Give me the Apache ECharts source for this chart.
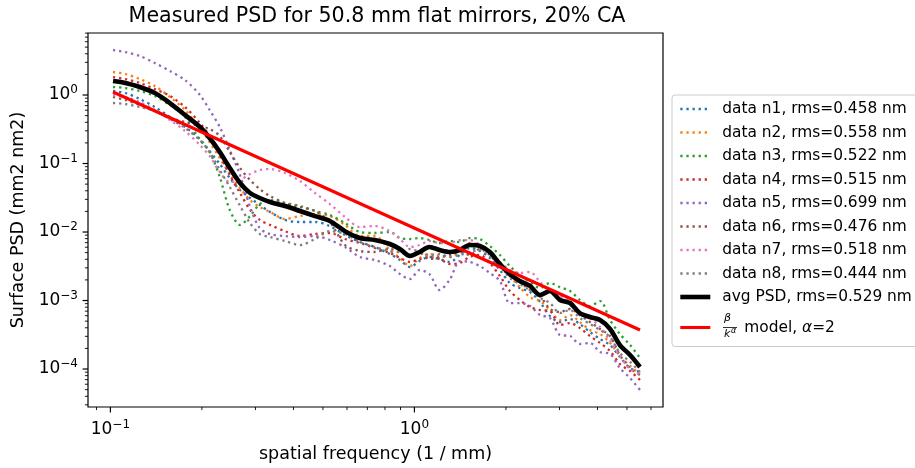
<!DOCTYPE html>
<html>
<head>
<meta charset="utf-8">
<script src="https://cdn.jsdelivr.net/npm/echarts@6/dist/echarts.min.js"></script>
<style>
  html, body { margin: 0; padding: 0; background: #fff; }
  #chart { width: 915px; height: 468px; }
</style>
</head>
<body>
<div id="chart"></div>
<script>
// Spatial frequency samples (1/mm)
const freq = [0.102, 0.112, 0.125, 0.140, 0.157, 0.176, 0.197, 0.212, 0.229, 0.247, 0.267, 0.288, 0.310, 0.335, 0.375, 0.420, 0.471, 0.527, 0.591, 0.662, 0.741, 0.830, 0.896, 0.967, 1.04, 1.12, 1.21, 1.31, 1.41, 1.52, 1.64, 1.77, 1.91, 2.06, 2.22, 2.40, 2.59, 2.79, 3.01, 3.25, 3.50, 3.78, 4.08, 4.40, 4.74, 5.12, 5.52];

// Surface PSD of each measured mirror (mm2 nm2)
const psdN1 = [1.144, 1.070, 0.874, 0.668, 0.477, 0.341, 0.228, 0.152, 0.0983, 0.0614, 0.0410, 0.0314, 0.0248, 0.0196, 0.0150, 0.0140, 0.0140, 0.0122, 0.00904, 0.00715, 0.00604, 0.00477, 0.00390, 0.00308, 0.00377, 0.00432, 0.00403, 0.00365, 0.00462, 0.00584, 0.00528, 0.00417, 0.00279, 0.00180, 0.00152, 0.00133, 0.000951, 0.000594, 0.000485, 0.000537, 0.000454, 0.000347, 0.000274, 0.000224, 0.000150, 0.000103, 0.0000904];
const psdN2 = [2.167, 2.026, 1.712, 1.353, 0.935, 0.604, 0.330, 0.206, 0.120, 0.0703, 0.0439, 0.0293, 0.0232, 0.0196, 0.0155, 0.0171, 0.0183, 0.0171, 0.0127, 0.00874, 0.00874, 0.00546, 0.00417, 0.00319, 0.00417, 0.00477, 0.00446, 0.00432, 0.00528, 0.00691, 0.00646, 0.00494, 0.00353, 0.00228, 0.00157, 0.00112, 0.000983, 0.000727, 0.000519, 0.000614, 0.000485, 0.000371, 0.000324, 0.000240, 0.000155, 0.000111, 0.0000845];
const psdN3 = [1.309, 1.265, 1.144, 0.967, 0.715, 0.477, 0.220, 0.147, 0.0635, 0.0210, 0.0127, 0.0171, 0.0256, 0.0293, 0.0265, 0.0240, 0.0203, 0.0177, 0.0135, 0.0100, 0.00967, 0.0100, 0.00817, 0.00790, 0.00817, 0.00764, 0.00691, 0.00739, 0.00715, 0.00817, 0.00790, 0.00625, 0.00462, 0.00319, 0.00236, 0.00186, 0.00152, 0.00180, 0.00157, 0.00138, 0.00102, 0.000831, 0.000983, 0.000519, 0.000324, 0.000224, 0.000145];
const psdN4 = [1.831, 1.712, 1.497, 1.223, 0.967, 0.668, 0.390, 0.252, 0.133, 0.0679, 0.0371, 0.0210, 0.0150, 0.0127, 0.0103, 0.00874, 0.00935, 0.00967, 0.00790, 0.00691, 0.00584, 0.00494, 0.00417, 0.00365, 0.00403, 0.00432, 0.00403, 0.00341, 0.00353, 0.00432, 0.00462, 0.00353, 0.00228, 0.00138, 0.00102, 0.000804, 0.000727, 0.000703, 0.000439, 0.000469, 0.000397, 0.000303, 0.000240, 0.000183, 0.000118, 0.0000935, 0.0000691];
const psdN5 = [4.539, 4.244, 3.710, 2.932, 2.241, 1.656, 1.000, 0.604, 0.341, 0.157, 0.0679, 0.0232, 0.0114, 0.00935, 0.00874, 0.00845, 0.00874, 0.00764, 0.00604, 0.00432, 0.00390, 0.00319, 0.00244, 0.00206, 0.00279, 0.00244, 0.00142, 0.00206, 0.00377, 0.00365, 0.00319, 0.00252, 0.00193, 0.000919, 0.000919, 0.000831, 0.000614, 0.000555, 0.000314, 0.000303, 0.000232, 0.000240, 0.000177, 0.000166, 0.000103, 0.0000739, 0.0000494];
const psdN6 = [0.935, 0.845, 0.715, 0.584, 0.462, 0.404, 0.353, 0.319, 0.252, 0.147, 0.0860, 0.0574, 0.0424, 0.0335, 0.0265, 0.0232, 0.0203, 0.0140, 0.00646, 0.00528, 0.00511, 0.00565, 0.00511, 0.00462, 0.00494, 0.00403, 0.00432, 0.00462, 0.00511, 0.00462, 0.00565, 0.00462, 0.00308, 0.00228, 0.00186, 0.00142, 0.00116, 0.000752, 0.000679, 0.000752, 0.000614, 0.000485, 0.000384, 0.000303, 0.000160, 0.000103, 0.0000817];
const psdN7 = [1.000, 0.935, 0.790, 0.604, 0.432, 0.298, 0.186, 0.129, 0.0752, 0.0537, 0.0574, 0.0703, 0.0804, 0.0831, 0.0727, 0.0555, 0.0371, 0.0256, 0.0166, 0.0118, 0.0122, 0.0103, 0.00790, 0.00604, 0.00646, 0.00739, 0.00691, 0.00691, 0.00764, 0.00764, 0.00646, 0.00477, 0.00365, 0.00279, 0.00252, 0.00261, 0.00186, 0.00138, 0.00116, 0.000951, 0.000679, 0.000555, 0.000410, 0.000256, 0.000155, 0.000100, 0.0000845];
const psdN8 = [0.764, 0.739, 0.668, 0.584, 0.446, 0.330, 0.220, 0.147, 0.0804, 0.0454, 0.0240, 0.0135, 0.00935, 0.00845, 0.00739, 0.00646, 0.00790, 0.0103, 0.00935, 0.00715, 0.00604, 0.00528, 0.00511, 0.00565, 0.00511, 0.00462, 0.00477, 0.00432, 0.00462, 0.00511, 0.00546, 0.00446, 0.00319, 0.00213, 0.00174, 0.00142, 0.00109, 0.000919, 0.000657, 0.000727, 0.000555, 0.000454, 0.000371, 0.000293, 0.000171, 0.000127, 0.0000904];

// Average PSD of the eight mirrors
const psdAvg = [1.601, 1.497, 1.309, 1.070, 0.764, 0.511, 0.341, 0.236, 0.147, 0.0860, 0.0519, 0.0371, 0.0314, 0.0274, 0.0240, 0.0203, 0.0171, 0.0145, 0.0103, 0.00818, 0.00764, 0.00668, 0.00565, 0.00446, 0.00511, 0.00604, 0.00546, 0.00511, 0.00546, 0.00646, 0.00625, 0.00511, 0.00341, 0.00244, 0.00193, 0.00163, 0.00120, 0.00138, 0.00102, 0.000919, 0.000657, 0.000574, 0.000519, 0.000384, 0.000224, 0.000160, 0.000107];

// Power-law model end points (beta / k^alpha, alpha = 2)
const modelFreq = [0.102, 5.52];
const modelPsd = [1.106, 0.000371];

// Legend labels
const dataNames = [
  'data n1, rms=0.458 nm', 'data n2, rms=0.558 nm', 'data n3, rms=0.522 nm', 'data n4, rms=0.515 nm',
  'data n5, rms=0.699 nm', 'data n6, rms=0.476 nm', 'data n7, rms=0.518 nm', 'data n8, rms=0.444 nm'
];
const avgName = 'avg PSD, rms=0.529 nm';
const modelName = 'β/k^α model, α=2';

// Axis ranges
const xRange = [0.0844, 6.57];
const yRange = [2.79e-5, 8.04];

const dataSets = [psdN1, psdN2, psdN3, psdN4, psdN5, psdN6, psdN7, psdN8];
const colors = ['#1f77b4', '#ff7f0e', '#2ca02c', '#d62728', '#9467bd', '#8c564b', '#e377c2', '#7f7f7f'];
const FONT = 'DejaVu Sans';
const dotDash = [2.3, 3.8];

// Log-axis tick positions: majors at powers of ten, minors at 2..9 within each decade
function logTicks(range) {
  const out = [];
  for (let d = -6; d <= 2; d++) {
    for (let m = 1; m <= 9; m++) {
      const v = m * Math.pow(10, d);
      if (v >= range[0] && v <= range[1]) out.push([v, m === 1 ? 1 : 0]);
    }
  }
  return out;
}

const pairs = (xs, ys) => xs.map((x, i) => [x, ys[i]]);

const series = [];
dataSets.forEach((arr, i) => {
  series.push({
    name: dataNames[i], type: 'line', data: pairs(freq, arr),
    symbol: 'none', smooth: 0.3, silent: true,
    lineStyle: { color: colors[i], width: 2.3, type: dotDash },
    itemStyle: { color: colors[i] }
  });
});
series.push({
  name: avgName, type: 'line', data: pairs(freq, psdAvg),
  symbol: 'none', smooth: 0.3, silent: true,
  lineStyle: { color: '#000', width: 4.6 }, itemStyle: { color: '#000' }
});
series.push({
  name: modelName, type: 'line', data: pairs(modelFreq, modelPsd),
  symbol: 'none', silent: true,
  lineStyle: { color: '#ff0000', width: 3.1 }, itemStyle: { color: '#ff0000' }
});

// Tick marks drawn outward from the bottom and left spines
series.push({
  type: 'custom', silent: true, clip: false, z: 6,
  data: logTicks(xRange).map(t => [t[0], yRange[0], t[1]]),
  renderItem: (params, api) => {
    const major = api.value(2) === 1;
    const p = api.coord([api.value(0), yRange[0]]);
    const len = major ? 5.4 : 3.1;
    return { type: 'line', shape: { x1: p[0], y1: p[1], x2: p[0], y2: p[1] + len },
             style: { stroke: '#000', lineWidth: major ? 1.2 : 0.9 } };
  }
});
series.push({
  type: 'custom', silent: true, clip: false, z: 6,
  data: logTicks(yRange).map(t => [xRange[0], t[0], t[1]]),
  renderItem: (params, api) => {
    const major = api.value(2) === 1;
    const p = api.coord([xRange[0], api.value(1)]);
    const len = major ? 5.4 : 3.1;
    return { type: 'line', shape: { x1: p[0] - len, y1: p[1], x2: p[0], y2: p[1] },
             style: { stroke: '#000', lineWidth: major ? 1.2 : 0.9 } };
  }
});

function powLabel(v) {
  const e = Math.log10(v);
  const r = Math.round(e);
  if (Math.abs(e - r) > 1e-6) return '';
  return '{b|10}{e|' + (r < 0 ? '\u2212' + (-r) : r) + '}';
}
const powRich = {
  b: { fontFamily: FONT, fontSize: 17, color: '#000', lineHeight: 22 },
  e: { fontFamily: FONT, fontSize: 12, color: '#000', lineHeight: 12, verticalAlign: 'top' }
};

// Legend handles: plain line samples without a marker
const hidden = { color: 'rgba(0,0,0,0)', borderColor: 'rgba(0,0,0,0)', borderWidth: 0 };
const legendData = dataNames.map((n, i) => ({
  name: n, itemStyle: hidden, lineStyle: { color: colors[i], width: 2.3, type: dotDash }
}));
legendData.push({ name: avgName, itemStyle: hidden, lineStyle: { color: '#000', width: 4.6, type: 'solid' } });
legendData.push({ name: modelName, itemStyle: hidden, lineStyle: { color: '#ff0000', width: 3.1, type: 'solid' } });

const option = {
  animation: false,
  backgroundColor: '#fff',
  title: {
    text: 'Measured PSD for 50.8 mm flat mirrors, 20% CA',
    left: 377, top: 4, padding: 0, textAlign: 'center',
    textStyle: { fontFamily: FONT, fontSize: 20.6, fontWeight: 'normal', color: '#000', lineHeight: 25 }
  },
  grid: {
    left: 88, top: 33, width: 575, height: 374,
    show: true, borderColor: '#000', borderWidth: 1.2, backgroundColor: 'transparent',
    containLabel: false, outerBoundsMode: 'none'
  },
  xAxis: {
    type: 'log', logBase: 10, min: xRange[0], max: xRange[1],
    name: 'spatial frequency (1 / mm)', nameLocation: 'middle', nameGap: 38,
    nameTextStyle: { fontFamily: FONT, fontSize: 17.5, color: '#000' },
    axisLine: { show: false }, axisTick: { show: false }, splitLine: { show: false }, minorTick: { show: false },
    axisLabel: { margin: 12, formatter: powLabel, rich: powRich, showMinLabel: true, showMaxLabel: true, hideOverlap: false }
  },
  yAxis: {
    type: 'log', logBase: 10, min: yRange[0], max: yRange[1],
    name: 'Surface PSD (mm2 nm2)', nameLocation: 'middle', nameGap: 54,
    nameTextStyle: { fontFamily: FONT, fontSize: 17.5, color: '#000' },
    axisLine: { show: false }, axisTick: { show: false }, splitLine: { show: false }, minorTick: { show: false },
    axisLabel: { margin: 10, formatter: powLabel, rich: powRich, showMinLabel: true, showMaxLabel: true, hideOverlap: false }
  },
  legend: {
    orient: 'vertical', left: 672, top: 95,
    padding: [6, 14, 4, 6],
    itemWidth: 30, itemHeight: 14, itemGap: 7.5,
    borderColor: '#cccccc', borderWidth: 1, borderRadius: 3, backgroundColor: 'rgba(255,255,255,0.8)',
    selectedMode: false,
    data: legendData,
    formatter: name => name === modelName ? '{gap|}{t|model, }{it|α}{t|=2}' : name,
    textStyle: {
      fontFamily: FONT, fontSize: 15.4, color: '#000', lineHeight: 16, padding: [0, 0, 0, 7],
      rich: {
        gap: { width: 22, lineHeight: 30 },
        t: { fontFamily: FONT, fontSize: 15.4, color: '#000', lineHeight: 30 },
        it: { fontFamily: FONT, fontSize: 15.4, color: '#000', fontStyle: 'italic', lineHeight: 30 }
      }
    }
  },
  // Fraction beta / k^alpha in the model legend entry
  graphic: [
    { type: 'text', z: 100, left: 724, top: 313, style: { text: 'β', font: 'italic 11px "DejaVu Sans"', fill: '#000' } },
    { type: 'line', z: 100, shape: { x1: 723, y1: 327.5, x2: 737, y2: 327.5 }, style: { stroke: '#000', lineWidth: 0.8 } },
    { type: 'text', z: 100, left: 724, top: 329, style: { text: 'k', font: 'italic 11px "DejaVu Sans"', fill: '#000' } },
    { type: 'text', z: 100, left: 731, top: 327, style: { text: 'α', font: 'italic 8px "DejaVu Sans"', fill: '#000' } }
  ],
  series: series
};

const chart = echarts.init(document.getElementById('chart'), null, { renderer: 'canvas' });
chart.setOption(option);
</script>
</body>
</html>
